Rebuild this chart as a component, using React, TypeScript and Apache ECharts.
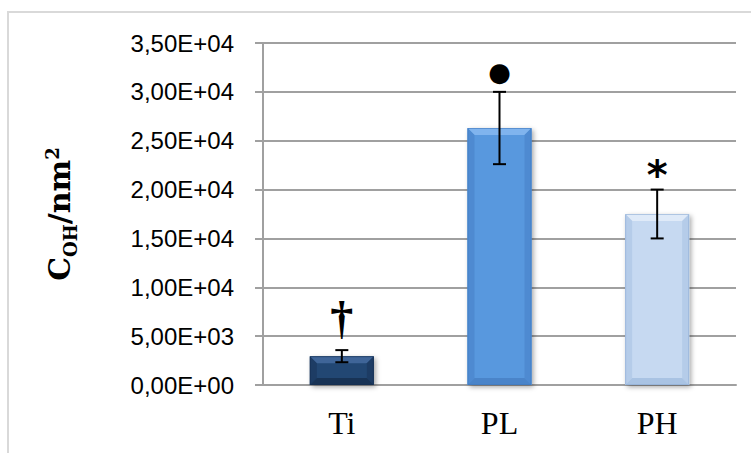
import React, { useEffect, useRef } from "react";
import * as echarts from "echarts";

const categories = ["Ti", "PL", "PH"];
const values = [2950, 26300, 17500];
const errors = [620, 3700, 2500];
const markers = ["†", "●", "*"];
const yTicks = { min: 0, max: 35000, interval: 5000 };

const palette = [
  { main: "#234673", top: "#3F6598", side: "#1D3C64", bottom: "#183355", edge: "#162F50" },
  { main: "#5898DE", top: "#80B4EE", side: "#4E8AD1", bottom: "#4A84C9", edge: "#3F78BE" },
  { main: "#C6D9F1", top: "#DFEAF8", side: "#B5CCE9", bottom: "#A9C3E3", edge: "#8EABD3" },
];

function fmt(v: number): string {
  if (v === 0) return "0,00E+00";
  const e = Math.floor(Math.log10(v) + 1e-9);
  const m = v / Math.pow(10, e);
  return m.toFixed(2).replace(".", ",") + "E+" + String(e).padStart(2, "0");
}

export default function App() {
  const ref = useRef<HTMLDivElement>(null);
  useEffect(() => {
    if (!ref.current) return;
    const chart = echarts.init(ref.current, null, { renderer: "svg" });
    const gray = "#A0A0A0";
    chart.setOption({
      animation: false,
      backgroundColor: "#fff",
      grid: { left: 263, right: 15, top: 43, bottom: 68, containLabel: false },
      graphic: [
        {
          type: "rect",
          z: -10,
          shape: { x: 8, y: 12, width: 800, height: 500 },
          style: { fill: "none", stroke: "#D9D9D9", lineWidth: 2 },
          silent: true,
        },
      ],
      xAxis: {
        type: "category",
        data: categories,
        axisLine: { show: true, lineStyle: { color: gray, width: 2 } },
        axisTick: { show: false },
        axisLabel: {
          fontFamily: "Liberation Serif",
          fontSize: 32,
          color: "#000",
          margin: 22,
        },
      },
      yAxis: {
        type: "value",
        min: yTicks.min,
        max: yTicks.max,
        interval: yTicks.interval,
        name: "{c|C}{s|OH}{c|/nm}{p|2}",
        nameLocation: "middle",
        nameRotate: 90,
        nameGap: 184,
        nameTextStyle: {
          rich: {
            c: { fontFamily: "DejaVu Serif", fontWeight: "bold", fontSize: 30, color: "#000", verticalAlign: "middle" },
            s: { fontFamily: "DejaVu Serif", fontWeight: "bold", fontSize: 18, color: "#000", verticalAlign: "top", padding: [22, 0, 0, 0] },
            p: { fontFamily: "DejaVu Serif", fontWeight: "bold", fontSize: 18, color: "#000", verticalAlign: "top", padding: [4, 0, 0, 0] },
          },
        },
        axisLine: { show: true, lineStyle: { color: gray, width: 2 } },
        axisTick: { show: true, length: 8, lineStyle: { color: gray, width: 2 } },
        splitLine: { show: true, lineStyle: { color: gray, width: 2 } },
        axisLabel: {
          fontFamily: "Liberation Sans",
          fontSize: 24,
          color: "#000",
          margin: 29,
          formatter: (v: number) => fmt(v),
        },
      },
      series: [
        {
          type: "custom",
          z: 3,
          data: categories.map((c, i) => [i, values[i]]),
          renderItem: (params: any, api: any) => {
            const i = api.value(0);
            const v = api.value(1);
            const top = api.coord([i, v]);
            const base = api.coord([i, 0]);
            const w = api.size([1, 0])[0] * 0.406;
            const x0 = top[0] - w / 2;
            const x1 = top[0] + w / 2;
            const y0 = top[1];
            const y1 = base[1];
            const h = y1 - y0;
            const b = Math.min(7, h / 4);
            const p = palette[params.dataIndex];
            return {
              type: "group",
              children: [
                {
                  type: "rect",
                  shape: { x: x0, y: y0, width: w, height: h },
                  style: {
                    fill: p.main,
                    shadowColor: "rgba(0,0,0,0.35)",
                    shadowBlur: 5,
                    shadowOffsetX: 2,
                    shadowOffsetY: 2,
                  },
                },
                {
                  type: "polygon",
                  shape: { points: [[x0, y0], [x1, y0], [x1 - b, y0 + b], [x0 + b, y0 + b]] },
                  style: { fill: p.top },
                },
                {
                  type: "polygon",
                  shape: { points: [[x0, y0], [x0 + b, y0 + b], [x0 + b, y1 - b], [x0, y1]] },
                  style: { fill: p.side },
                },
                {
                  type: "polygon",
                  shape: { points: [[x1, y0], [x1 - b, y0 + b], [x1 - b, y1 - b], [x1, y1]] },
                  style: { fill: p.side },
                },
                {
                  type: "polygon",
                  shape: { points: [[x0, y1], [x0 + b, y1 - b], [x1 - b, y1 - b], [x1, y1]] },
                  style: { fill: p.bottom },
                },
                {
                  type: "rect",
                  shape: { x: x0 + 0.5, y: y0 + 0.5, width: w - 1, height: h - 1 },
                  style: { fill: "none", stroke: p.edge, lineWidth: 1, opacity: 0.6 },
                },
              ],
            };
          },
        },
        {
          type: "custom",
          z: 5,
          data: categories.map((c, i) => [i, values[i] - errors[i], values[i] + errors[i]]),
          renderItem: (params: any, api: any) => {
            const i = api.value(0);
            const lo = api.coord([i, api.value(1)]);
            const hi = api.coord([i, api.value(2)]);
            const x = lo[0];
            const cap = 6.5;
            const m = markers[params.dataIndex];
            const children: any[] = [
              { type: "line", shape: { x1: x, y1: lo[1], x2: x, y2: hi[1] }, style: { stroke: "#000", lineWidth: 2 } },
              { type: "line", shape: { x1: x - cap, y1: lo[1], x2: x + cap, y2: lo[1] }, style: { stroke: "#000", lineWidth: 2 } },
              { type: "line", shape: { x1: x - cap, y1: hi[1], x2: x + cap, y2: hi[1] }, style: { stroke: "#000", lineWidth: 2 } },
            ];
            let font = "bold 46px 'Liberation Serif'";
            let dy = -33;
            if (m === "●") {
              font = "26px 'DejaVu Sans'";
              dy = -20;
            } else if (m === "*") {
              font = "bold 40px 'DejaVu Sans'";
              dy = -15;
            }
            children.push({
              type: "text",
              style: {
                text: m,
                x: x,
                y: hi[1] + dy,
                align: "center",
                verticalAlign: "middle",
                font,
                fill: "#000",
              },
            });
            return { type: "group", children };
          },
        },
      ],
    });
    return () => chart.dispose();
  }, []);
  return <div ref={ref} style={{ position: "fixed", left: 0, top: 0, width: 751, height: 453 }} />;
}
